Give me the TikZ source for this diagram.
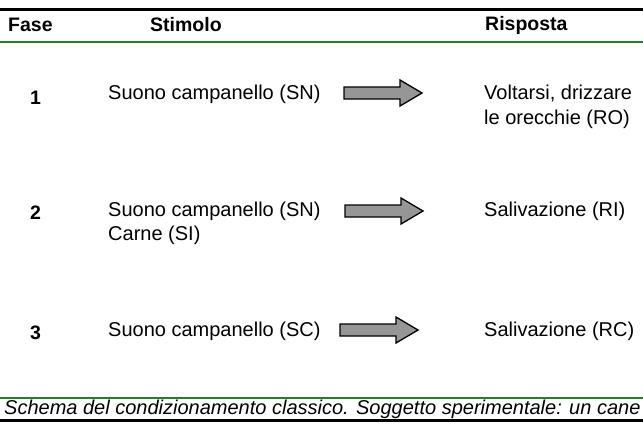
\documentclass[tikz,border=0pt]{standalone}
\usepackage{fontspec}
\setmainfont{Liberation Sans}
\definecolor{grn}{RGB}{40,125,40}
\definecolor{arrg}{RGB}{150,150,150}
\tikzset{txt/.style={anchor=west,inner sep=0pt,font=\fontsize{20}{24}\selectfont},
hdr/.style={anchor=west,inner sep=0pt,font=\fontsize{19.5}{23}\selectfont\bfseries},
fatarrow/.style={fill=arrg,draw=black,line width=1.3pt,line join=miter}}
\newcommand{\fatarr}[2]{\draw[fatarrow] (#1,#2-6)--(#1+56,#2-6)--(#1+56,#2-13)--(#1+78,#2)--(#1+56,#2+13)--(#1+56,#2+6)--(#1,#2+6)--cycle;}
\begin{document}
\begin{tikzpicture}[x=1pt,y=-1pt]
\useasboundingbox (0,0) rectangle (643,429);
\draw[line width=3pt] (0,9)--(643,9);
\draw[grn,line width=2pt] (0,42)--(643,42);
\draw[grn,line width=2pt] (0,398)--(643,398);
\draw[line width=3pt] (0,420)--(643,420);
\node[hdr] (h1) at (8,25) {Fase};
\node[hdr] (h2) at (150,25) {Stimolo};
\node[hdr] (h3) at (485,25) {Risposta};
\node[hdr] (n1) at (30,98) {1};
\node[hdr] (n2) at (30,213) {2};
\node[hdr] (n3) at (30,333) {3};
\node[txt] (s1) at (108,94) {Suono campanello (SN)};
\node[txt] (r1a) at (484,94) {Voltarsi, drizzare};
\node[txt] (r1b) at (484,119) {le orecchie (RO)};
\node[txt] (s2a) at (108,211) {Suono campanello (SN)};
\node[txt] (s2b) at (108,235) {Carne (SI)};
\node[txt] (r2) at (484,211) {Salivazione (RI)};
\node[txt] (s3) at (108,331) {Suono campanello (SC)};
\node[txt] (r3) at (484,331) {Salivazione (RC)};
\fatarr{344}{93}
\fatarr{345}{211}
\fatarr{340}{330}
\node[txt,font=\fontsize{20}{24}\selectfont\itshape] (cap) at (4,409) {Schema del condizionamento classico. Soggetto sperimentale: un cane};
\end{tikzpicture}
\end{document}
